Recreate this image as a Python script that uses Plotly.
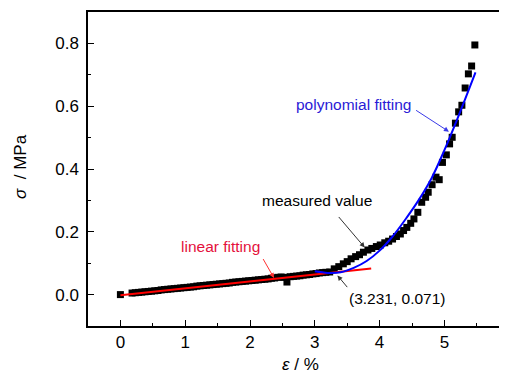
import plotly.graph_objects as go

# measured values (strain %, stress MPa)
meas_x = [0.0, 0.18, 0.23, 0.28, 0.33, 0.38, 0.43, 0.48, 0.53, 0.58, 0.63, 0.68, 0.73, 0.78, 0.83,
          0.88, 0.93, 0.98, 1.03, 1.08, 1.13, 1.18, 1.23, 1.28, 1.33, 1.38, 1.43, 1.48, 1.53,
          1.58, 1.63, 1.68, 1.73, 1.78, 1.83, 1.88, 1.93, 1.98, 2.03, 2.08, 2.13, 2.18, 2.23,
          2.28, 2.33, 2.38, 2.43, 2.48, 2.53, 2.57, 2.62, 2.67, 2.72, 2.77, 2.82, 2.87, 2.92,
          2.97, 3.02, 3.07, 3.12, 3.17, 3.23,
          3.30, 3.37, 3.44, 3.50, 3.56, 3.63, 3.69, 3.75, 3.82, 3.88, 3.95, 4.01, 4.08, 4.14,
          4.20, 4.26, 4.32, 4.37, 4.42, 4.48, 4.53, 4.59, 4.65, 4.71, 4.75, 4.81, 4.87, 4.92,
          4.97, 5.03, 5.08, 5.12, 5.17, 5.22, 5.27, 5.32, 5.37, 5.42, 5.47]
meas_y = [0.000, 0.005, 0.006, 0.007, 0.008, 0.009, 0.010, 0.011, 0.012, 0.013, 0.015, 0.016, 0.017,
          0.018, 0.019, 0.020, 0.021, 0.022, 0.023, 0.024, 0.025, 0.027, 0.028, 0.029, 0.030,
          0.031, 0.032, 0.033, 0.034, 0.035, 0.036, 0.037, 0.039, 0.040, 0.041, 0.042, 0.043,
          0.044, 0.045, 0.046, 0.047, 0.048, 0.049, 0.050, 0.052, 0.053, 0.055, 0.056, 0.055,
          0.040, 0.057, 0.058, 0.059, 0.060, 0.062, 0.063, 0.064, 0.066, 0.067, 0.069, 0.070,
          0.071, 0.072,
          0.082, 0.089, 0.098, 0.105, 0.114, 0.121, 0.127, 0.135, 0.142, 0.147, 0.153, 0.158,
          0.165, 0.170, 0.177, 0.185, 0.193, 0.204, 0.214, 0.227, 0.241, 0.262, 0.294, 0.310,
          0.326, 0.350, 0.374, 0.366, 0.421, 0.445, 0.480, 0.501, 0.546, 0.582, 0.603, 0.658,
          0.703, 0.728, 0.795]

# linear fitting line
lin_x = [0.0, 3.87]
lin_y = [-0.002, 0.083]

# polynomial fitting curve
poly_x = [3.0, 3.2, 3.4, 3.6, 3.8, 4.0, 4.2, 4.4, 4.6, 4.8, 5.0, 5.2, 5.48]
poly_y = [0.074, 0.069, 0.071, 0.085, 0.107, 0.140, 0.185, 0.240, 0.300, 0.370, 0.460, 0.560, 0.708]

x_ticks = [0, 1, 2, 3, 4, 5]
y_ticks = [0.0, 0.2, 0.4, 0.6, 0.8]
y_tick_text = ["0.0", "0.2", "0.4", "0.6", "0.8"]

FONT = "Liberation Sans, Arial, sans-serif"
RED_TXT = "#e4103c"
BLUE_TXT = "#2a1ad6"
TXT_SIZE = 15.5
TICK_SIZE = 17

fig = go.Figure()
fig.add_trace(go.Scatter(x=meas_x, y=meas_y, mode="markers",
                         marker=dict(symbol="square", size=7, color="black"),
                         showlegend=False))
fig.add_trace(go.Scatter(x=lin_x, y=lin_y, mode="lines",
                         line=dict(color="#ff0000", width=2), showlegend=False))
fig.add_trace(go.Scatter(x=poly_x, y=poly_y, mode="lines", line_shape="spline",
                         line=dict(color="#0000ff", width=2), showlegend=False))

# the page adds an 8px body margin, so the figure is 8px smaller than the window
OFF = 8
W, H = 507 - OFF, 371 - OFF
SL, ST, SB, SR = 88, 12, 326, 507  # plot box in window pixels


def px_to_paper(px, py):
    return (px - SL) / (SR - SL), (SB - py) / (SB - ST)


anns = []
# text labels
for txt, (px, py), col in [("polynomial fitting", (353, 104), BLUE_TXT),
                           ("measured value", (317, 200), "black"),
                           ("linear fitting", (220, 246), RED_TXT),
                           ("(3.231, 0.071)", (397, 298), "black")]:
    xp, yp = px_to_paper(px, py)
    anns.append(dict(text=txt, x=xp, y=yp, xref="paper", yref="paper", showarrow=False,
                     xanchor="center", yanchor="middle",
                     font=dict(family=FONT, size=TXT_SIZE, color=col)))

# arrows (tip, tail) in data coordinates
for (tx, ty), (sx, sy), col in [((5.07, 0.519), (4.54, 0.590), "#3a3ae8"),
                                ((3.77, 0.150), (3.35, 0.252), "#333333"),
                                ((2.37, 0.053), (2.19, 0.118), "#ff3030"),
                                ((3.35, 0.061), (3.52, 0.019), "#333333")]:
    anns.append(dict(text="", x=tx, y=ty, xref="x", yref="y", ax=sx, ay=sy,
                     axref="x", ayref="y", showarrow=True, arrowhead=2, arrowsize=1,
                     arrowwidth=1, arrowcolor=col, standoff=0, startstandoff=0))

# axis titles
xp, yp = px_to_paper(300, 353)
anns.append(dict(text="<i>ε</i> / %", x=xp, y=yp, xref="paper", yref="paper", showarrow=False,
                 xanchor="center", yanchor="top", font=dict(family=FONT, size=TICK_SIZE, color="black")))
xp, yp = px_to_paper(20, 167)
anns.append(dict(text="<i>σ</i>  / MPa", x=xp, y=yp, xref="paper", yref="paper", showarrow=False,
                 textangle=-90, xanchor="center", yanchor="middle",
                 font=dict(family=FONT, size=TICK_SIZE, color="black")))
# partially visible "6" tick label at the cropped right edge
xp, yp = px_to_paper(509, 331)
anns.append(dict(text="6", x=xp, y=yp, xref="paper", yref="paper", showarrow=False,
                 xanchor="center", yanchor="top", font=dict(family=FONT, size=TICK_SIZE, color="black")))

fig.update_layout(
    width=W, height=H,
    margin=dict(l=SL - OFF, r=0, t=ST - OFF, b=H - (SB - OFF), pad=0),
    plot_bgcolor="white", paper_bgcolor="white",
    font=dict(family=FONT, size=TICK_SIZE, color="black"),
    annotations=anns,
    xaxis=dict(range=[-0.5, (SR - SL) / 64.8 - 0.5], tickvals=x_ticks, ticks="inside", ticklen=6,
               tickwidth=1, tickcolor="black", showline=True, linecolor="black", linewidth=1.5,
               mirror=True, showgrid=False, zeroline=False,
               minor=dict(ticks="inside", ticklen=3, dtick=0.5, tickcolor="black", showgrid=False),
               tickfont=dict(family=FONT, size=TICK_SIZE)),
    yaxis=dict(range=[-0.1, 0.9], tickvals=y_ticks, ticktext=y_tick_text, ticks="inside",
               ticklen=6, tickwidth=1, tickcolor="black", showline=True, linecolor="black",
               linewidth=1.5, showgrid=False, zeroline=False, ticklabelstandoff=4,
               minor=dict(ticks="inside", ticklen=3, dtick=0.1, tick0=0, tickcolor="black",
                          showgrid=False),
               tickfont=dict(family=FONT, size=TICK_SIZE)),
)

fig.write_html("out.html")
